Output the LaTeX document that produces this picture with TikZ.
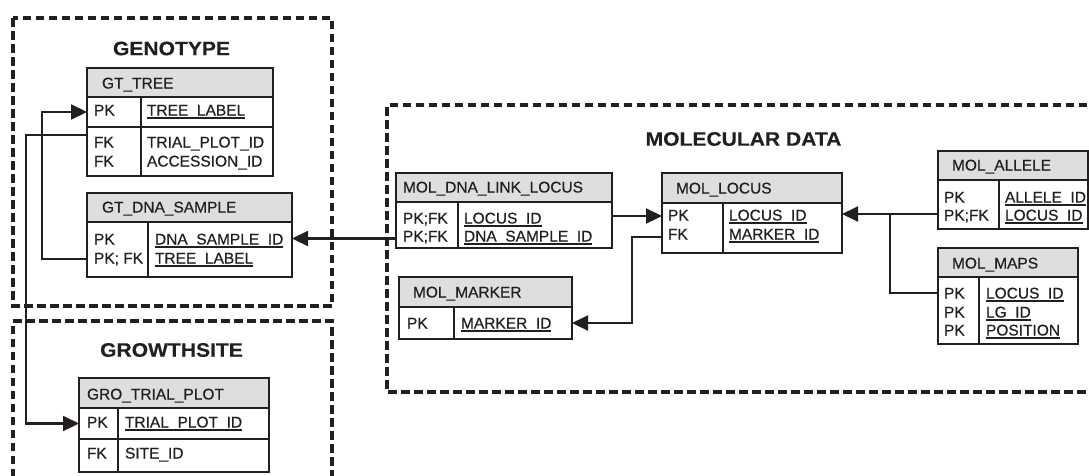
\documentclass[tikz,border=0pt]{standalone}
\usepackage{fontspec}
\setmainfont{Liberation Sans}
\newfontfamily\tblfam[FakeBold=0.45]{Liberation Sans}
\newfontfamily\ttlfam[FakeStretch=1.08,FakeBold=0.3]{Liberation Sans}
\usetikzlibrary{arrows.meta}
\definecolor{linec}{RGB}{35,31,32}
\definecolor{hdrc}{RGB}{222,222,222}
\newcommand\ulx[1]{\setbox0\hbox{#1}\rlap{\rule[-3.3pt]{\wd0}{1.8pt}}\box0}
\begin{document}
\begin{tikzpicture}[x=1pt,y=-1pt,
  tb/.style={draw=linec, line width=1.3pt, inner sep=0pt, outer sep=0pt, anchor=north west, fill=white},
  hd/.style={tb, fill=hdrc},
  dv/.style={draw=linec, line width=1.3pt},
  tx/.style={anchor=base west, inner sep=0pt, outer sep=0pt, text=linec, font=\tblfam\fontsize{15.5}{18}\selectfont},
  conn/.style={line width=2.2pt, draw=linec},
  arr/.style={conn, -{Triangle[length=16pt,width=15pt]}},
  grp/.style={draw=linec, line width=3.6pt, dash pattern=on 8.5pt off 4.5pt},
  ttl/.style={inner sep=0pt, text=linec, font=\ttlfam\bfseries\fontsize{19.5}{22}\selectfont}
]
\path[use as bounding box] (0,0) rectangle (1089,475);
\begin{scope}
\clip (0,0) rectangle (1089,475);

% ---------- group boxes ----------
\draw[grp] (13,18) rectangle (332,306);
\draw[grp] (13,490) -- (13,321) -- (332,321) -- (332,490);
\draw[grp] (1100,105) -- (387,105) -- (387,392) -- (1100,392);
\node[ttl] (t-geno) at (171.5,48.5) {GENOTYPE};
\node[ttl] (t-grow) at (171.5,350) {GROWTHSITE};
\node[ttl] (t-mol) at (743.5,139) {MOLECULAR DATA};

% ---------- GT_TREE ----------
\node[hd, minimum width=186pt, minimum height=29pt] (gtt-h) at (87,68) {};
\node[tb, minimum width=186pt, minimum height=30pt] (gtt-r1) at (87,97) {};
\node[tb, minimum width=186pt, minimum height=49pt] (gtt-r2) at (87,127) {};
\draw[dv] (141,97) -- (141,176);
\node[tx] (gtt-n) at (102,88.5) {GT\_TREE};
\node[tx] (gtt-k1) at (94,115.5) {PK};
\node[tx] (gtt-v1) at (147,115.5) {\ulx{TREE\_LABEL}};
\node[tx] (gtt-k2) at (94,147.5) {FK};
\node[tx] (gtt-v2) at (147,147.5) {TRIAL\_PLOT\_ID};
\node[tx] (gtt-k3) at (94,166.5) {FK};
\node[tx] (gtt-v3) at (147,166.5) {ACCESSION\_ID};

% ---------- GT_DNA_SAMPLE ----------
\node[hd, minimum width=205pt, minimum height=29pt] (gds-h) at (87,193) {};
\node[tb, minimum width=205pt, minimum height=55pt] (gds-b) at (87,222) {};
\draw[dv] (148,222) -- (148,277);
\node[tx] (gds-n) at (102,212.5) {GT\_DNA\_SAMPLE};
\node[tx] (gds-k1) at (94,244.5) {PK};
\node[tx] (gds-v1) at (155,244.5) {\ulx{DNA\_SAMPLE\_ID}};
\node[tx] (gds-k2) at (94,263.5) {PK; FK};
\node[tx] (gds-v2) at (155,263.5) {\ulx{TREE\_LABEL}};

% ---------- GRO_TRIAL_PLOT ----------
\node[hd, minimum width=190pt, minimum height=30pt] (gro-h) at (79,378) {};
\node[tb, minimum width=190pt, minimum height=31pt] (gro-r1) at (79,408) {};
\node[tb, minimum width=190pt, minimum height=33pt] (gro-r2) at (79,439) {};
\draw[dv] (118,408) -- (118,472);
\node[tx] (gro-n) at (87,399.5) {GRO\_TRIAL\_PLOT};
\node[tx] (gro-k1) at (87,427.5) {PK};
\node[tx] (gro-v1) at (125,427.5) {\ulx{TRIAL\_PLOT\_ID}};
\node[tx] (gro-k2) at (87,458.5) {FK};
\node[tx] (gro-v2) at (125,458.5) {SITE\_ID};

% ---------- MOL_DNA_LINK_LOCUS ----------
\node[hd, minimum width=216pt, minimum height=29pt] (mdl-h) at (396,173) {};
\node[tb, minimum width=216pt, minimum height=46pt] (mdl-b) at (396,202) {};
\draw[dv] (458,202) -- (458,248);
\node[tx] (mdl-n) at (403,192.5) {MOL\_DNA\_LINK\_LOCUS};
\node[tx] (mdl-k1) at (403,223.5) {PK;FK};
\node[tx] (mdl-v1) at (464,223.5) {\ulx{LOCUS\_ID}};
\node[tx] (mdl-k2) at (403,241.5) {PK;FK};
\node[tx] (mdl-v2) at (464,241.5) {\ulx{DNA\_SAMPLE\_ID}};

% ---------- MOL_LOCUS ----------
\node[hd, minimum width=180pt, minimum height=30pt] (ml-h) at (662,173) {};
\node[tb, minimum width=180pt, minimum height=50pt] (ml-b) at (662,203) {};
\draw[dv] (723,203) -- (723,253);
\node[tx] (ml-n) at (676,193.5) {MOL\_LOCUS};
\node[tx] (ml-k1) at (668,220.5) {PK};
\node[tx] (ml-v1) at (729,220.5) {\ulx{LOCUS\_ID}};
\node[tx] (ml-k2) at (668,239.5) {FK};
\node[tx] (ml-v2) at (729,239.5) {\ulx{MARKER\_ID}};

% ---------- MOL_MARKER ----------
\node[hd, minimum width=173pt, minimum height=30pt] (mmk-h) at (399,277) {};
\node[tb, minimum width=173pt, minimum height=32pt] (mmk-b) at (399,307) {};
\draw[dv] (454,307) -- (454,339);
\node[tx] (mmk-n) at (413,297.5) {MOL\_MARKER};
\node[tx] (mmk-k1) at (407,328.5) {PK};
\node[tx] (mmk-v1) at (461,328.5) {\ulx{MARKER\_ID}};

% ---------- MOL_ALLELE ----------
\node[hd, minimum width=150pt, minimum height=29pt] (mal-h) at (938,151) {};
\node[tb, minimum width=150pt, minimum height=49pt] (mal-b) at (938,180) {};
\draw[dv] (999,180) -- (999,229);
\node[tx] (mal-n) at (952,170.5) {MOL\_ALLELE};
\node[tx] (mal-k1) at (944,202.5) {PK};
\node[tx] (mal-v1) at (1005,202.5) {\ulx{ALLELE\_ID}};
\node[tx] (mal-k2) at (944,220.5) {PK;FK};
\node[tx] (mal-v2) at (1005,220.5) {\ulx{LOCUS\_ID}};

% ---------- MOL_MAPS ----------
\node[hd, minimum width=140pt, minimum height=29pt] (mmp-h) at (938,248) {};
\node[tb, minimum width=140pt, minimum height=67pt] (mmp-b) at (938,277) {};
\draw[dv] (979,277) -- (979,344);
\node[tx] (mmp-n) at (952,268.5) {MOL\_MAPS};
\node[tx] (mmp-k1) at (944,298.5) {PK};
\node[tx] (mmp-v1) at (986,298.5) {\ulx{LOCUS\_ID}};
\node[tx] (mmp-k2) at (944,317.5) {PK};
\node[tx] (mmp-v2) at (986,317.5) {\ulx{LG\_ID}};
\node[tx] (mmp-k3) at (944,335.5) {PK};
\node[tx] (mmp-v3) at (986,335.5) {\ulx{POSITION}};

% ---------- connectors ----------
\coordinate (y-gds) at (0,259);
\coordinate (x-j1) at (42,0);
\coordinate (y-gtt) at (0,135);
\coordinate (x-j2) at (26,0);
\coordinate (y-mdl-l) at (0,238.5);
\coordinate (y-mdl-r) at (0,216);
\coordinate (y-ml-fk) at (0,237);
\coordinate (x-j3) at (632,0);
\coordinate (y-mal) at (0,214);
\coordinate (y-mmp) at (0,293);
\coordinate (x-j4) at (890,0);

\draw[arr] (gds-b.west |- y-gds) -- (x-j1 |- y-gds) -- (x-j1 |- gtt-r1.west) -- (gtt-r1.west);
\draw[arr] (gtt-r2.west |- y-gtt) -- (x-j2 |- y-gtt) -- (x-j2 |- gro-r1.west) -- (gro-r1.west);
\draw[arr] (mdl-b.west |- y-mdl-l) -- (gds-b.east |- y-mdl-l);
\draw[arr] (mdl-b.east |- y-mdl-r) -- (ml-b.west |- y-mdl-r);
\draw[arr] (ml-b.west |- y-ml-fk) -- (x-j3 |- y-ml-fk) -- (x-j3 |- mmk-b.east) -- (mmk-b.east);
\draw[arr] (mal-b.west |- y-mal) -- (ml-b.east |- y-mal);
\draw[conn] (mmp-b.west |- y-mmp) -- (x-j4 |- y-mmp) -- (x-j4 |- y-mal);
\end{scope}
\end{tikzpicture}
\end{document}
